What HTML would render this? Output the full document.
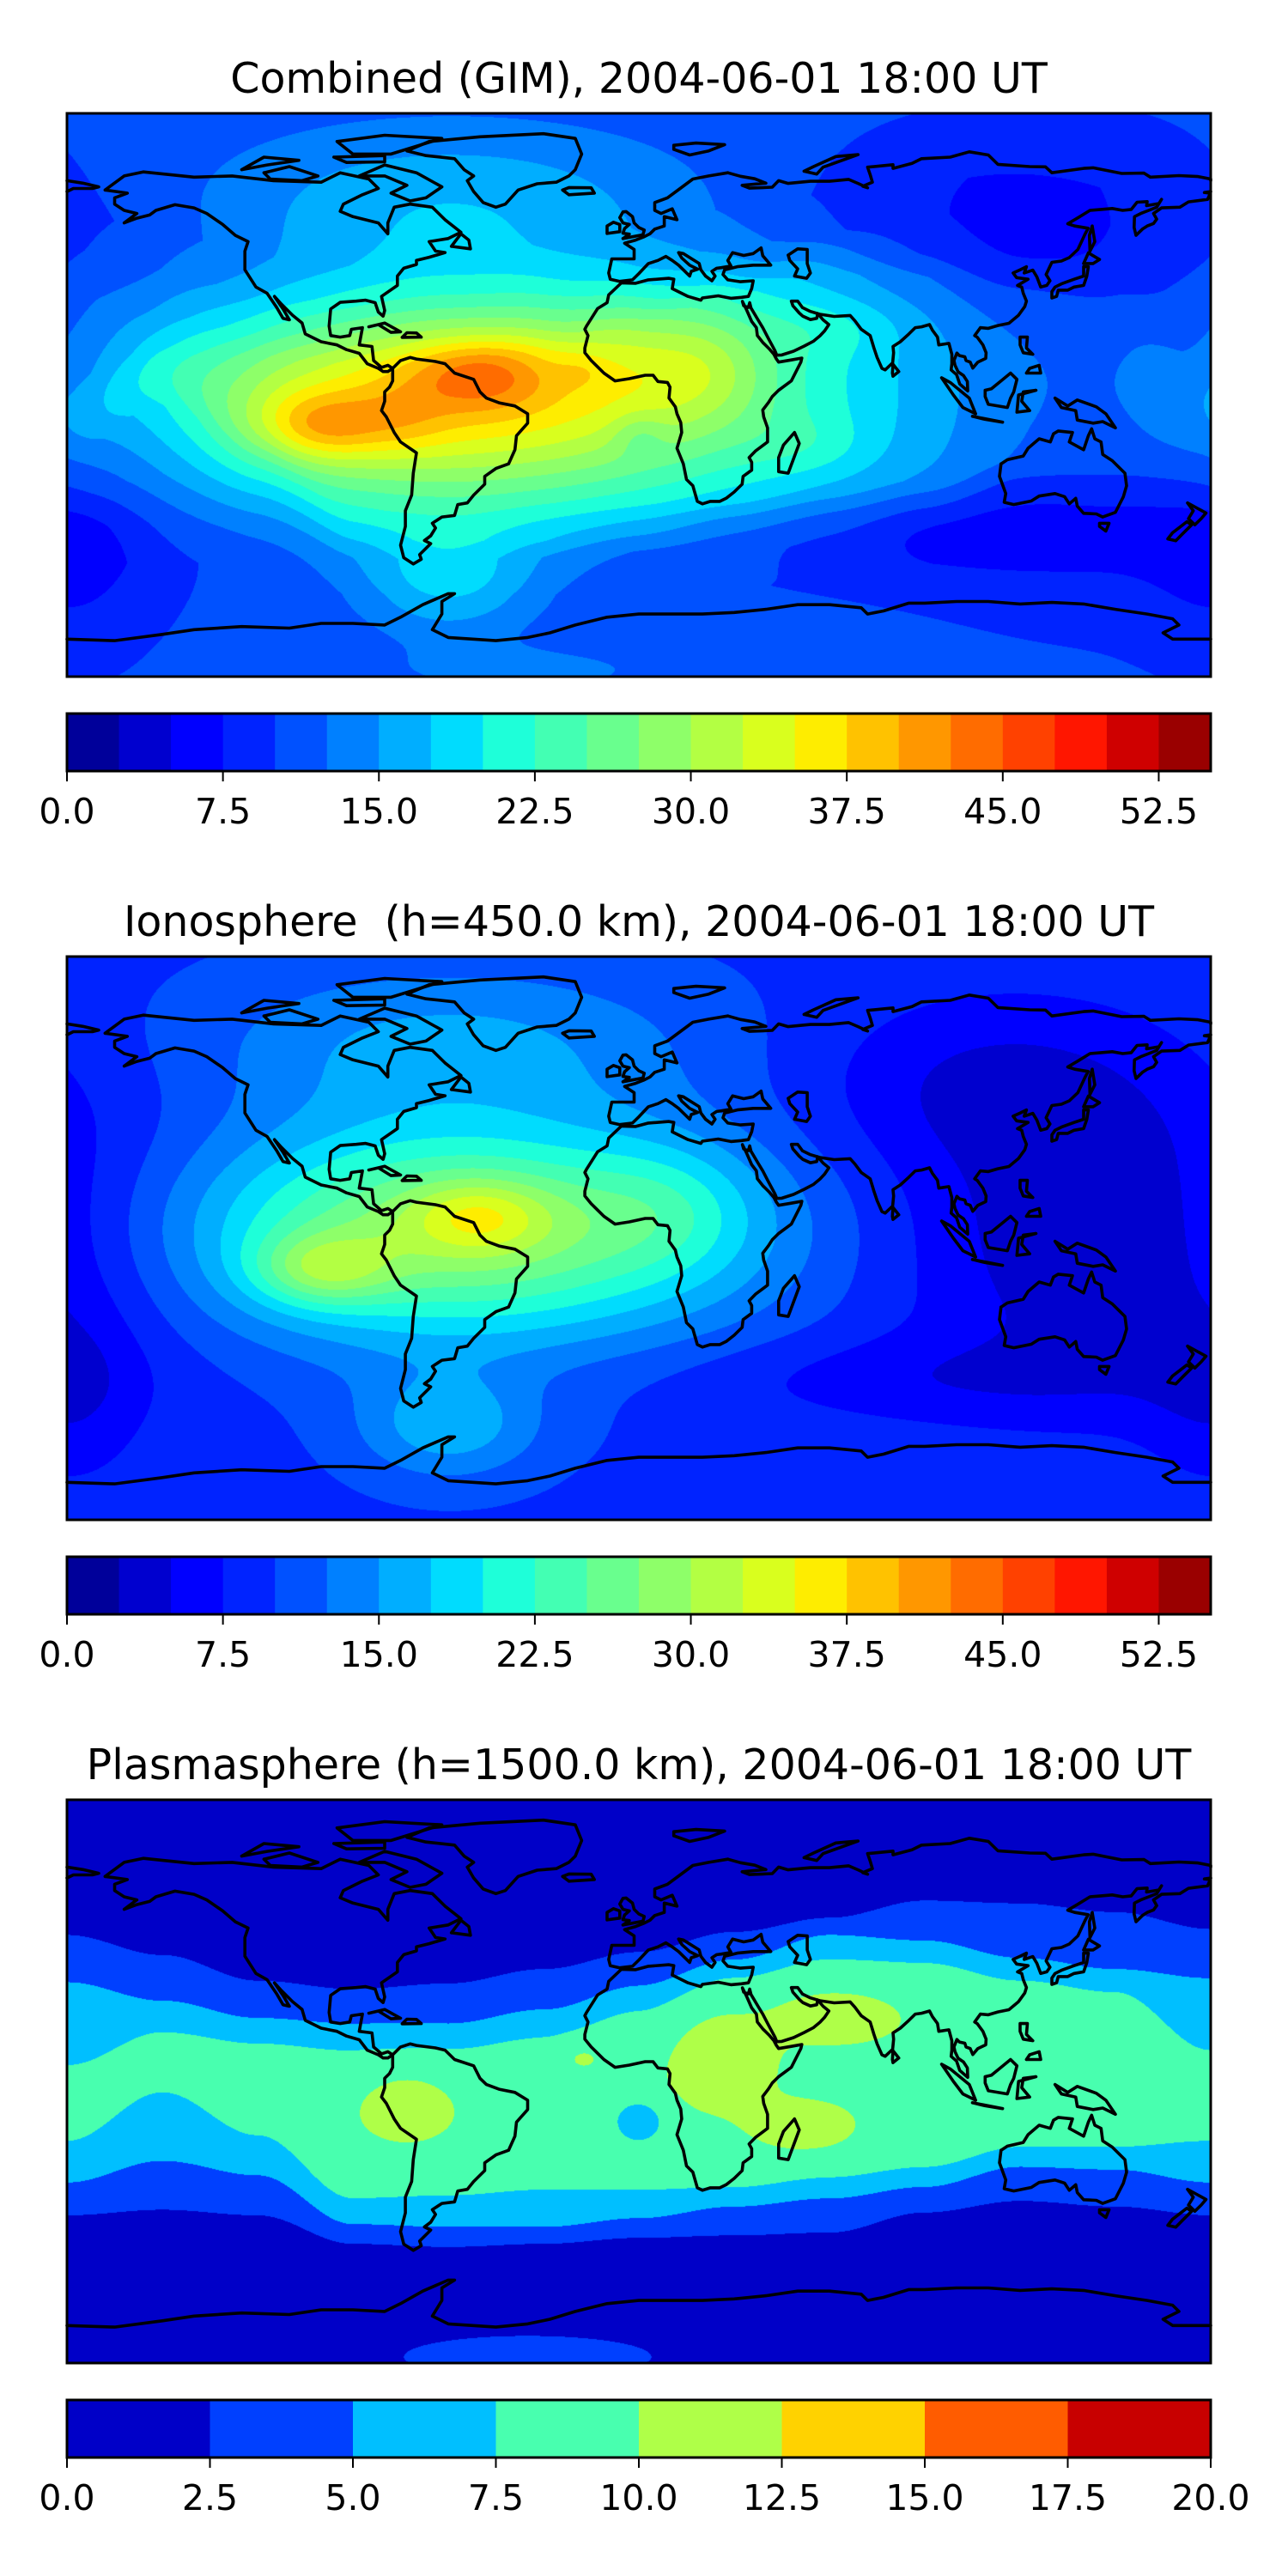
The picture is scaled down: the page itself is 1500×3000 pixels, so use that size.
<!DOCTYPE html>
<html><head><meta charset="utf-8">
<style>
html,body{margin:0;padding:0;background:#fff;}
body{width:1500px;height:3000px;position:relative;overflow:hidden;font-family:"DejaVu Sans","Liberation Sans",sans-serif;}
canvas{position:absolute;left:78px;}
#overlay{position:absolute;left:0;top:0;}
</style></head>
<body>
<canvas id="map-comb" width="1332" height="656" style="top:132px"></canvas>
<canvas id="map-iono" width="1332" height="656" style="top:1114px"></canvas>
<canvas id="map-plas" width="1332" height="656" style="top:2096px"></canvas>
<svg id="overlay" width="1500" height="3000" xmlns="http://www.w3.org/2000/svg">
<text x="744" y="108" text-anchor="middle" font-size="49">Combined (GIM), 2004-06-01 18:00 UT</text>
<text x="744" y="1090" text-anchor="middle" font-size="49" xml:space="preserve">Ionosphere  (h=450.0 km), 2004-06-01 18:00 UT</text>
<text x="744" y="2072" text-anchor="middle" font-size="49">Plasmasphere (h=1500.0 km), 2004-06-01 18:00 UT</text>
<g id="layers"></g>
</svg>
<script>
// ---------- data ----------
// Ionosphere blobs: lon, lat, amplitude (TECU), lon sigma, lat sigma
const ionoLon  = [0,    -57, -50, -100, -60, -60,  10, 150,  90, 110, -178];
const ionoLat  = [0,     2,   7,  -10,  -60,  62,  10,   0, -45,  50,  -50];
const ionoAmp  = [9.5,  20,   7,    9,    7,   6,   4,  -7,  -3,  -4,  -3];
const ionoSLon = [1000, 62,  15,   15,   20,  55,  20,  50,  60,  40,  15];
const ionoSLat = [1000, 24,   8,    8,   12,  18,  15,  35,  10,  20,  20];
// Plasmasphere band edges by longitude (lat of 2.5 / 5 / 7.5 contours, north & south)
const bandLon = [-180, -150, -120,  -90,  -60,  -30,    0,   30,   60,   90,  120,  150,  180];
const blueN   = [46.8, 40.4, 32.2, 29.5, 31.3, 35.9, 41.3, 47.7, 52.3, 57.8, 56.9, 54.1, 48.7];
const cyanN   = [31.7, 25.8, 20.3, 18.5, 18.5, 23.0, 30.4, 38.6, 46.8, 45.0, 39.5, 35.9, 33.0];
const greenN  = [ 5.2, 15.7, 12.1,  9.8, 10.2, 13.9, 22.1, 32.2, 38.6, 37.7, 32.2, 28.5, 10.0];
const greenS  = [-19.0,-3.5,-17.2,-37.3,-36.4,-34.6,-34.6,-33.7,-30.0,-27.3,-20.9,-20.9,-19.0];
const cyanS   = [-32.3,-25.4,-30.0,-45.6,-46.5,-46.5,-43.7,-40.0,-37.3,-33.7,-27.3,-28.2,-32.3];
const blueS   = [-42.8,-41.0,-42.8,-51.9,-52.9,-51.9,-50.0,-49.2,-48.3,-41.9,-38.2,-40.0,-42.8];
// Plasmasphere anomaly blobs
const plasLon  = [-73,  25,  62,  53, -18,   0, -35];
const plasLat  = [ -8,   8,  22, -16,   8, -12.5, -88];
const plasAmp  = [2.3, 2.3, 2.3, 2.3, 1.6, -3.2, 2.6];
const plasSLon = [10,   12,  17,  14,   6,   6,  35];
const plasSLat = [8,    12,   7,   7,   4,   5,   6];
// Colour levels
const levelsA = [];  // 0..55 step 2.5
for (let i = 0; i <= 22; i++) levelsA.push(i * 2.5);
const ticksA = [0, 7.5, 15, 22.5, 30, 37.5, 45, 52.5];
const tickLabelsA = ["0.0","7.5","15.0","22.5","30.0","37.5","45.0","52.5"];
const levelsB = [0, 2.5, 5, 7.5, 10, 12.5, 15, 17.5, 20];
const ticksB = [0, 2.5, 5, 7.5, 10, 12.5, 15, 17.5, 20];
const tickLabelsB = ["0.0","2.5","5.0","7.5","10.0","12.5","15.0","17.5","20.0"];
// Coastlines (lon, lat)
const coasts = [
[[-168,65.5],[-162,70],[-156,71.3],[-140,69.6],[-128,70],[-115,68.5],[-100,68],[-94,71],[-85,69],[-82,66],[-87,64],[-93,61],[-94,58.7],[-90,57],[-82,55],[-79,51.5],[-79,55],[-77,60],[-72,61],[-65,60],[-61,56],[-56,52],[-60,50],[-66,49],[-64,46],[-61,45.5],[-66,44],[-70,43],[-70,41.7],[-74,40.5],[-76,38],[-76,35],[-81,31.5],[-80,27],[-80.5,25.2],[-82,26.5],[-83,29.5],[-86,30.3],[-89,30],[-94,29.6],[-97,27.5],[-97.5,22],[-97,19],[-94,18.5],[-91,19],[-90.5,21],[-87,21.5],[-88,16],[-84,15.5],[-83.5,11],[-81,8.8],[-79,9.5],[-77.5,8.5],[-79,7.5],[-80.5,7.5],[-82,8.5],[-85.5,10],[-88,13.3],[-92,14.5],[-95,16],[-100,17],[-105,19.5],[-106,23],[-109,25.5],[-112.5,29],[-114.7,31.5],[-112,27.5],[-110,24],[-112,24.5],[-114,28],[-117,32.5],[-120.5,34.5],[-124,40],[-124,46],[-123,49],[-127,51],[-131,54.5],[-136,58],[-140,59.8],[-146,60.8],[-152,59],[-154,57.5],[-158,56.5],[-162,55],[-158,58],[-162,59],[-165,61],[-165,63],[-161,64.5],[-168,65.5]],
[[-77.5,8.5],[-75,11],[-72,12],[-70,11.5],[-64,10.7],[-61,10],[-58,7],[-52,5],[-50,1],[-48,-1],[-44,-2.5],[-39,-3.5],[-35,-6],[-35,-9],[-38.5,-13],[-39,-17.5],[-41,-22],[-45,-23.5],[-48.5,-26],[-48.5,-28.5],[-52,-32],[-54,-34.5],[-57,-35],[-58,-38.5],[-62,-39],[-65,-41],[-64,-42.5],[-65.5,-45],[-67.5,-46.5],[-65.5,-47.5],[-69,-51],[-68.5,-52.5],[-71,-54],[-74,-52],[-75,-48],[-73.5,-42],[-73.5,-37],[-71.5,-32],[-71,-25],[-70,-18.5],[-75,-15],[-77,-12],[-79.5,-7],[-81,-5],[-80,-2],[-80,1],[-78.5,2.5],[-77.5,4.5],[-77.5,8.5]],
[[-73,78],[-66,81],[-50,82.5],[-30,83.5],[-20,82],[-18,77],[-20,72],[-22,70],[-26,68],[-32,67.5],[-38,65.5],[-42,61],[-45,60],[-49,61.5],[-52,65],[-54,68.5],[-52,70],[-55,72],[-58,75.5],[-67,76.5],[-73,78]],
[[-62,66.5],[-67,63],[-72,62],[-78,64.5],[-73,67],[-80,70],[-88,70],[-80,73.5],[-70,71],[-62,66.5]],
[[-118,71],[-110,73],[-101,70],[-106,68.5],[-116,69],[-118,71]],
[[-90,77],[-78,77],[-62,82],[-80,83],[-95,81],[-90,77]],
[[-125,72],[-118,76],[-107,75],[-117,73.5],[-125,72]],
[[-96,76],[-80,76.5],[-80,74.5],[-92,74.3],[-96,76]],
[[28,71],[22,70],[17,69],[13,66],[9,63],[5,61.5],[5,59],[7,58],[10.5,59.5],[12,56],[8,57],[8,54],[5,53],[3.5,51.5],[1.5,50.5],[-1,49.5],[-4.5,48.5],[-1.5,46.5],[-1.5,43.5],[-8.5,43.5],[-9.5,39],[-9,37],[-6,36.3],[-2,36.8],[0,38.8],[3,42],[6,43],[8.5,44.3],[10.5,43],[12.5,41.5],[16,38],[16.5,39.5],[18.5,40.2],[16,41.5],[13.5,43.8],[12.5,45.5],[14,45.2],[19,42],[19.5,40],[21,38],[23,36.5],[24,38],[23,39.5],[24.5,40.5],[26,40.7],[29,41.2],[28,43],[29.5,45.5],[33,44.6],[36,45.2],[38.5,47],[39,44.5],[41.5,41.5],[36,41.5],[31,41],[27,40],[26.5,38.5],[28,36.8],[32,36.2],[36,36.5],[35.5,34],[34.5,31.5],[32.3,31.2],[29,30.9],[25,31.7],[20,31],[19.5,30.3],[15.5,31.5],[10.5,34],[11,37],[9.5,37.3],[3,36.8],[-1,35.7],[-5.5,35.8],[-9.5,32],[-10,29.5],[-13,27.6],[-16.5,22],[-17,21],[-16,19],[-17,15],[-17,13.5],[-15,11],[-13,9],[-11,7],[-7.5,4.5],[-3,5.2],[2,6.3],[4.5,6.3],[6,4.3],[9,4],[9.8,2.5],[9.5,-1],[11.5,-3.8],[12,-6],[13.2,-8.8],[13.5,-12],[12,-17],[14,-22],[15,-27],[17,-29],[18.4,-34],[20,-34.8],[22.5,-34],[25.5,-34],[27.5,-33],[30,-31],[32.5,-28.5],[32.8,-26],[35.5,-24],[35.5,-21.5],[34.7,-20],[36.8,-17.8],[40.5,-15],[40.5,-10.5],[39.3,-7],[39,-4.8],[40.8,-2.4],[42,-0.5],[44,1.5],[48,4.5],[51,10.5],[51.3,11.8],[48,11.2],[44,10.5],[43.3,11.5],[42.5,13],[41,14.8],[39,16.8],[37.3,19],[37,21.5],[35.5,23.5],[34,27],[32.6,29.9],[33,28.5],[34.5,28],[34.9,29.5],[35.3,27.8],[37.5,24],[39,21.5],[40.8,18],[42.8,14.2],[43.4,12.7],[45,12.8],[48.7,14],[52,15.6],[55,17.2],[57,18.9],[58.5,20.5],[59.8,22.5],[58,24],[56.3,26],[56,24.5],[54,24.1],[51.6,25.2],[50.5,26.2],[48.5,28.5],[48,30],[50,30],[51.5,27.9],[54,26.7],[57,25.8],[61.5,25.1],[66.5,25.4],[68,23.7],[70,21],[72.8,19],[74,15],[75,12],[76.5,8.5],[77.5,8],[79.9,10.3],[80.2,13.5],[80,15.5],[82.3,17],[85,19.5],[87,21.5],[89,21.8],[91.5,22.5],[92.4,20.7],[94,18.5],[94.4,16],[97.6,16.5],[98.5,13],[98.5,10],[98.3,8],[100,6.5],[101,3.5],[103.5,1.3],[103.4,4.3],[102.2,6.2],[100.5,7.4],[99.5,9.5],[99.2,11],[100.1,13.4],[100.9,12.6],[102.6,12.2],[103,11],[104.3,10.5],[105.1,8.6],[106.7,10.5],[109.2,11.7],[109.3,13.5],[108.3,16],[106.5,18.5],[105.7,19],[107.5,21.5],[110,21.3],[113,22.2],[116.5,22.9],[119.5,25.5],[121.5,28.3],[122,30],[121,32.5],[120.5,34.5],[119.2,35],[122.5,37],[118.9,37.5],[117.8,39],[120,40],[122,41],[121.3,39],[124,39.9],[125.3,37.7],[126.5,34.5],[128.4,35],[129.4,36.5],[128.2,38.5],[130,42.4],[133,42.8],[135.5,43.9],[138.2,46.5],[140.5,51.5],[141.4,53.3],[137.2,54],[135,54.7],[138,56.5],[142,59],[145.5,59.3],[149,59.6],[152.3,59],[155,59.3],[156.8,61.6],[160,61.8],[159.8,60.5],[163.7,61.2],[164.5,62.5],[163,60],[160.5,59],[158,58],[156,57],[155.9,53.5],[156.5,51],[158.5,53],[160,54],[162,54.8],[163,56.2],[162,58],[164.5,59.8],[170.3,60],[173,61.7],[179,62.5],[179.9,64.5],[178,64.7],[180,65]],
[[-180,65],[-178,66],[-172,66],[-170,66.5],[-175,67.7],[-180,68.5]],
[[180,68.5],[180,69],[176,69.8],[170,70.1],[161,69.6],[159,70.9],[152,70.8],[143,72.6],[140,72.4],[130,71],[128,72.9],[123,73],[113,73.7],[110,76.7],[104,77.7],[98,76],[89,75.5],[86,74],[80,72.4],[80,73.6],[72,72.8],[72.8,70.4],[73.5,68],[70.5,66.7],[72,66.2],[69,67.6],[66,68.9],[60,68.3],[54,68.3],[47,67.6],[44,68.5],[42,66.4],[34.8,66.1],[32.5,67],[40,67.7],[36.5,69.1],[32,69.9],[28,71]],
[[-5,50],[1.3,51.2],[1.7,52.7],[0,53.5],[-1.5,55],[-2,57],[-4,58.6],[-5,58.5],[-6,56.7],[-5,55],[-3,54.5],[-4.5,53.2],[-5,51.7],[-3,51.4],[-5,50]],
[[-6,52.2],[-6,54.5],[-8,55.2],[-10,54],[-10,51.6],[-6,52.2]],
[[-22,64],[-14,64.5],[-15,66.2],[-22,66.3],[-24,65.5],[-22,64]],
[[49,-12],[50.5,-15.5],[47,-25],[44,-24.5],[44,-20],[45.5,-16],[49,-12]],
[[80,6],[81.8,7.5],[80,9.8],[79.8,7],[80,6]],
[[130,31],[131.5,31.5],[132,33.5],[135,33.5],[137,34.5],[140,35],[141,38],[141.5,41],[140,41],[140,38],[137,37],[133,35.5],[131,34.5],[130,33],[130,31]],
[[140,42],[141.5,45.4],[145,43.3],[143,42],[140,42]],
[[142,46],[143.5,49],[142.7,54],[141.8,51],[142,46]],
[[120,18.5],[122.3,18.5],[122,15],[124,13],[121,13.5],[120,16],[120,18.5]],
[[122,7],[126.5,7],[126,9.5],[123,8.5],[122,7]],
[[109,1.5],[111,2],[114,4.5],[117,7],[119,5],[118,1],[117,-1],[116,-4],[110,-3],[109,-0.5],[109,1.5]],
[[95.3,5.5],[98,4],[104,-1],[106,-6],[102,-4],[99,0],[95.3,5.5]],
[[105,-6.8],[114.5,-8.7],[109,-7.8],[105,-6.8]],
[[119,-5.5],[119.5,0],[125,1.5],[121,1],[120.5,-2],[123,-5],[119,-5.5]],
[[131,-1],[135,-3.5],[138,-1.6],[144,-3.8],[147,-6],[150,-10.5],[146,-8.5],[143,-9],[138,-8],[137.5,-5],[133,-4],[131,-1]],
[[114,-22],[116,-20.7],[121,-19.5],[122.5,-17],[126,-14],[129.5,-15],[130.5,-12.4],[132,-11.5],[136.5,-12],[135.5,-15],[140,-17.5],[141.5,-13],[142.5,-10.8],[143.5,-14],[145.5,-15],[146,-19],[149,-21],[153,-25],[153.5,-29],[152.5,-32.5],[150,-37.5],[146,-39],[144,-38],[140,-37.8],[138,-35.5],[137.5,-33],[135.5,-34.8],[134,-32.5],[131,-31.5],[126,-32.3],[123.5,-33.9],[118,-35],[115,-34.3],[115.5,-31.5],[113.5,-26],[114,-22]],
[[145,-41],[148,-41],[147,-43.5],[145,-42],[145,-41]],
[[172.7,-34.5],[178.5,-37.7],[177,-39.5],[175,-41.5],[173,-39.5],[174.5,-37],[172.7,-34.5]],
[[172.5,-40.5],[174,-41.5],[171,-44.5],[169,-46.6],[166.5,-46],[168,-44],[172.5,-40.5]],
[[-85,21.8],[-80,23],[-75,20.2],[-78,20],[-82,22.5],[-85,21.8]],
[[-74.5,18.4],[-68.5,18.5],[-70,19.8],[-73,19.9],[-74.5,18.4]],
[[-59,47.5],[-53,46.7],[-53.5,49.5],[-56,51.5],[-59,47.5]],
[[11,78.5],[16,76.7],[22,78],[27,80],[18,80.5],[11,79.8],[11,78.5]],
[[52,71.5],[56,70.6],[58,72.8],[69,76.8],[62,76.2],[55,73],[52,71.5]],
[[47,44.7],[50,46.7],[53,46.5],[53,42],[54,39],[52.8,37.3],[49,38],[50,40.3],[47.5,43],[47,44.7]],
[[-180,-78],[-165,-78.5],[-150,-76.5],[-140,-75],[-125,-74],[-110,-74.5],[-100,-73],[-90,-73],[-80,-73.5],[-75,-71],[-68,-67],[-60,-63.5],[-58,-63.5],[-62,-66],[-62,-70],[-65,-75],[-60,-77.5],[-45,-78.5],[-35,-77.5],[-28,-76],[-20,-73.5],[-10,-71],[0,-70],[10,-70],[20,-70],[30,-69.5],[40,-68.5],[50,-67],[60,-67],[70,-68],[72,-70],[77,-69],[85,-66.5],[90,-66.5],[100,-66],[110,-66],[120,-66.8],[130,-66.3],[140,-66.8],[150,-68.5],[160,-70],[168,-71.5],[170,-73.5],[165,-76],[168,-78],[180,-78]]
];

// ---------- helpers ----------
const W = 1332, H = 656, X0 = 78;
const panelTops = [132, 1114, 2096];
const cbTops = [831, 1813, 2795];
function xOfLon(lon){ return X0 + (lon + 180) / 360 * W; }
function yOfLat(lat, top){ return top + (90 - lat) / 180 * H; }
function seg(x, pts){
  for (let i = 0; i < pts.length - 1; i++){
    const a = pts[i], b = pts[i+1];
    if (x >= a[0] && x <= b[0]) return a[1] + (b[1]-a[1]) * (x-a[0]) / (b[0]-a[0] || 1);
  }
  return pts[pts.length-1][1];
}
const jR = [[0,0],[0.35,0],[0.66,1],[0.89,1],[1,0.5]];
const jG = [[0,0],[0.125,0],[0.375,1],[0.64,1],[0.91,0],[1,0]];
const jB = [[0,0.5],[0.11,1],[0.34,1],[0.65,0],[1,0]];
function jet(t){ return [Math.round(255*seg(t,jR)), Math.round(255*seg(t,jG)), Math.round(255*seg(t,jB))]; }
function levelColors(levels){
  const lo = levels[0], hi = levels[levels.length-1], cs = [];
  for (let i = 0; i < levels.length-1; i++){ cs.push(jet(((levels[i]+levels[i+1])/2 - lo)/(hi-lo))); }
  return cs;
}
function interp(arrX, arrY, x){
  for (let i = 0; i < arrX.length-1; i++){
    if (x >= arrX[i] && x <= arrX[i+1]){
      const t = (x-arrX[i])/(arrX[i+1]-arrX[i]); const s = (1-Math.cos(Math.PI*t))/2;
      return arrY[i] + (arrY[i+1]-arrY[i]) * s;
    }
  }
  return arrY[arrY.length-1];
}
function blobSum(lon, lat, L, A, M, SL, SA){
  let v = 0;
  for (let k = 0; k < L.length; k++){
    let dl = Math.abs(lon - L[k]); if (dl > 180) dl = 360 - dl;
    const da = lat - A[k];
    v += M[k] * Math.exp(-(dl*dl)/(2*SL[k]*SL[k]) - (da*da)/(2*SA[k]*SA[k]));
  }
  return v;
}
function bandValue(lat, bN, cN, gN, gS, cS, bS){
  const c = (gN + gS) / 2;
  let g, cc, b, d;
  if (lat >= c){ g = gN; cc = cN; b = bN; d = lat; }
  else { g = -gS; cc = -cS; b = -bS; d = -lat; }
  const cen = lat >= c ? c : -c;
  if (d <= g){ const u = (d - cen) / Math.max(g - cen, 0.1); return 7.5 + 1.8 * (1 - u*u); }
  if (d <= cc) return 7.5 - 2.5 * (d - g) / Math.max(cc - g, 0.1);
  if (d <= b) return 5 - 2.5 * (d - cc) / Math.max(b - cc, 0.1);
  return 2.5 - 1.4 * Math.min(1, (d - b) / 12);
}
// ---------- fields ----------
const iono = new Float32Array(W*H), plas = new Float32Array(W*H);
for (let px = 0; px < W; px++){
  const lon = (px + 0.5) / W * 360 - 180;
  const e = [blueN, cyanN, greenN, greenS, cyanS, blueS].map(a => interp(bandLon, a, lon));
  for (let py = 0; py < H; py++){
    const lat = 90 - (py + 0.5) / H * 180;
    const i = py*W + px;
    iono[i] = blobSum(lon, lat, ionoLon, ionoLat, ionoAmp, ionoSLon, ionoSLat);
    plas[i] = bandValue(lat, e[0], e[1], e[2], e[3], e[4], e[5]) + blobSum(lon, lat, plasLon, plasLat, plasAmp, plasSLon, plasSLat);
  }
}
function paint(id, field, levels){
  const cs = levelColors(levels);
  const ctx = document.getElementById(id).getContext('2d');
  const img = ctx.createImageData(W, H);
  const step = levels[1]-levels[0];
  for (let i = 0; i < W*H; i++){
    let k = Math.floor((field[i]-levels[0])/step);
    if (k < 0) k = 0; if (k > cs.length-1) k = cs.length-1;
    const c = cs[k];
    img.data[4*i] = c[0]; img.data[4*i+1] = c[1]; img.data[4*i+2] = c[2]; img.data[4*i+3] = 255;
  }
  ctx.putImageData(img, 0, 0);
}
const comb = new Float32Array(W*H);
for (let i = 0; i < W*H; i++) comb[i] = iono[i] + plas[i];
paint('map-comb', comb, levelsA);
paint('map-iono', iono, levelsA);
paint('map-plas', plas, levelsB);

// ---------- overlay ----------
const NS = "http://www.w3.org/2000/svg";
const layers = document.getElementById('layers');
function mk(tag, attrs){ const e = document.createElementNS(NS, tag); for (const k in attrs) e.setAttribute(k, attrs[k]); return e; }
const panelNames = ['combined', 'ionosphere', 'plasmasphere'];
panelTops.forEach((top, p) => {
  const g = mk('g', {});
  
  
  coasts.forEach(poly => {
    const pts = poly.map(q => xOfLon(q[0]).toFixed(1) + ',' + yOfLat(q[1], top).toFixed(1)).join(' ');
    const pl = mk('polyline', {points: pts, fill: 'none', stroke: '#000', 'stroke-width': 3.6, 'stroke-linejoin': 'round', 'stroke-linecap': 'round'});
    
    
    g.appendChild(pl);
  });
  layers.appendChild(g);
  const fr = mk('rect', {x: X0, y: top, width: W, height: H, fill: 'none', stroke: '#000', 'stroke-width': 3});
  
  
  layers.appendChild(fr);
  const levels = p < 2 ? levelsA : levelsB;
  const ticks = p < 2 ? ticksA : ticksB;
  const labels = p < 2 ? tickLabelsA : tickLabelsB;
  const cs = levelColors(levels);
  const lo = levels[0], hi = levels[levels.length-1];
  const xv = v => X0 + (v - lo) / (hi - lo) * W;
  const cbTop = cbTops[p], cbH = 67;
  const cb = mk('g', {});
  
  
  for (let i = 0; i < cs.length; i++){
    const r = mk('rect', {x: xv(levels[i]).toFixed(2), y: cbTop, width: (xv(levels[i+1]) - xv(levels[i]) + 0.6).toFixed(2), height: cbH, fill: 'rgb(' + cs[i].join(',') + ')'});
    
    
    cb.appendChild(r);
  }
  const br = mk('rect', {x: X0, y: cbTop, width: W, height: cbH, fill: 'none', stroke: '#000', 'stroke-width': 3});
  
  
  cb.appendChild(br);
  ticks.forEach((t, i) => {
    const tl = mk('line', {x1: xv(t), x2: xv(t), y1: cbTop + cbH, y2: cbTop + cbH + 12, stroke: '#000', 'stroke-width': 2});
    
    
    cb.appendChild(tl);
    const tx = mk('text', {x: xv(t), y: cbTop + 128, 'text-anchor': 'middle', 'font-size': 41});
    
    
    tx.textContent = labels[i];
    cb.appendChild(tx);
  });
  layers.appendChild(cb);
});
</script>
</body></html>
